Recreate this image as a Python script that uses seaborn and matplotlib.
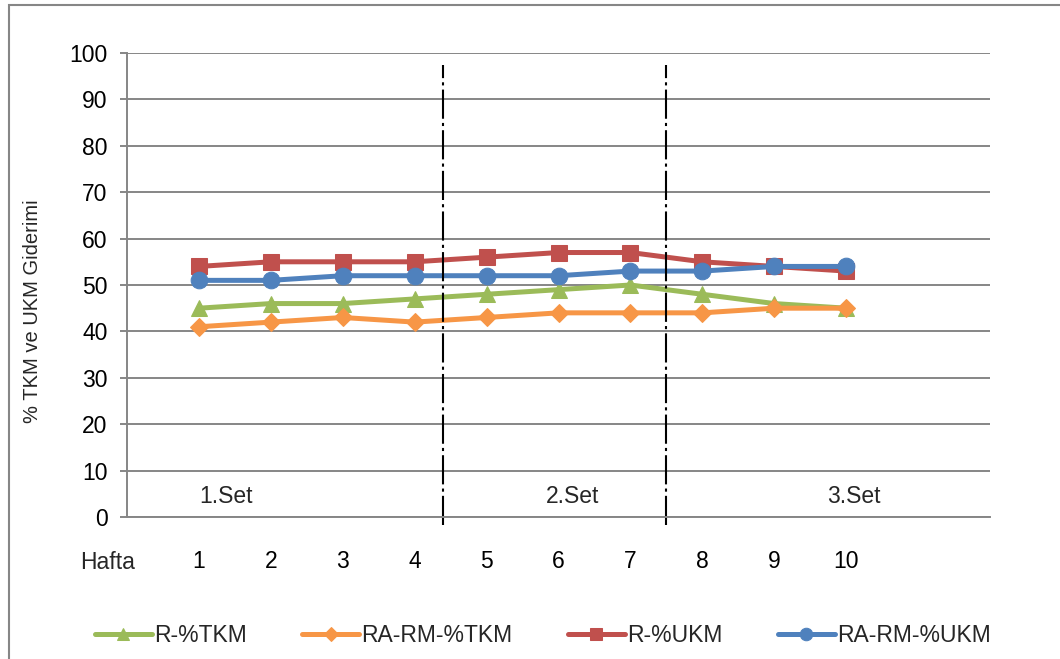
import matplotlib
matplotlib.use("Agg")
import matplotlib.pyplot as plt
from matplotlib.patches import Rectangle
import seaborn as sns
import pandas as pd

# Weekly removal efficiencies (%)
hafta = [1, 2, 3, 4, 5, 6, 7, 8, 9, 10]
r_tkm = [45, 46, 46, 47, 48, 49, 50, 48, 46, 45]
ra_rm_tkm = [41, 42, 43, 42, 43, 44, 44, 44, 45, 45]
r_ukm = [54, 55, 55, 55, 56, 57, 57, 55, 54, 53]
ra_rm_ukm = [51, 51, 52, 52, 52, 52, 53, 53, 54, 54]

series_names = ["R-%TKM", "RA-RM-%TKM", "R-%UKM", "RA-RM-%UKM"]
series_values = [r_tkm, ra_rm_tkm, r_ukm, ra_rm_ukm]
colors = ["#9BBB59", "#F79646", "#C0504D", "#4F81BD"]
markers = ["^", "D", "s", "o"]
marker_sizes = [11.5, 9.5, 11, 12]

# Experimental set boundaries and labels
set_bounds = [4.4, 7.5]
set_labels = ["1.Set", "2.Set", "3.Set"]
set_label_x = [1.38, 6.19, 10.1]
set_label_y = 4.5

sns.set_style("white")
plt.rcParams["font.family"] = ["Liberation Sans", "DejaVu Sans"]
FS = 16.5
grey = "#868686"

fig = plt.figure(figsize=(10.60, 6.59), dpi=100)
ax = fig.add_axes([127 / 1060, 1 - 517 / 659, 863 / 1060, 464 / 659])

for name, vals, c, m, ms in zip(series_names, series_values, colors, markers, marker_sizes):
    df = pd.DataFrame({"Hafta": hafta, "val": vals})
    sns.lineplot(data=df, x="Hafta", y="val", ax=ax, color=c, marker=m,
                 markersize=ms, markeredgecolor=c, linewidth=3.6, label=name,
                 legend=False)

ax.set_xlim(0, 12)
ax.set_ylim(0, 100)
ax.set_yticks(range(0, 101, 10))
ax.set_xticks(hafta)
ax.set_xticklabels([str(h) for h in hafta])
ax.yaxis.grid(True, color=grey, linewidth=1.4)
ax.set_axisbelow(True)
for s in ["top", "right"]:
    ax.spines[s].set_visible(False)
for s in ["left", "bottom"]:
    ax.spines[s].set_color(grey)
    ax.spines[s].set_linewidth(1.4)
ax.tick_params(axis="y", which="both", left=True, length=5, width=1.4,
               color=grey, pad=9, labelsize=FS, labelcolor="black")
ax.tick_params(axis="x", length=0, pad=24, labelsize=FS, labelcolor="black")
ax.set_xlabel("")
ax.set_ylabel("% TKM ve UKM Giderimi", fontsize=14.5)
ax.yaxis.set_label_coords(-0.0985, 0.444)

ax.annotate("Hafta", xy=(-0.023, -0.099), xycoords="axes fraction",
            ha="center", va="center", fontsize=FS)

for b in set_bounds:
    ax.axvline(b, ymin=-0.017, ymax=0.975, color="black", linewidth=1.5,
               linestyle=(0, (14, 2, 1.5, 2)), clip_on=False)

for lab, x in zip(set_labels, set_label_x):
    ax.text(x, set_label_y, lab, ha="center", va="center", fontsize=FS)

handles, labels = ax.get_legend_handles_labels()
fig.legend(handles, labels, loc="center", bbox_to_anchor=(0.512, 0.035),
           ncol=4, frameon=False, fontsize=FS, handlelength=2.5,
           handletextpad=0.1, columnspacing=2.4, markerscale=0.75)

# Chart frame
fig.add_artist(Rectangle((8.5 / 1060, -0.1), 1.2, 0.1 + (1 - 5 / 659),
                         transform=fig.transFigure, fill=False,
                         edgecolor=grey, linewidth=1.5))

fig.savefig("out.png", dpi=100)
